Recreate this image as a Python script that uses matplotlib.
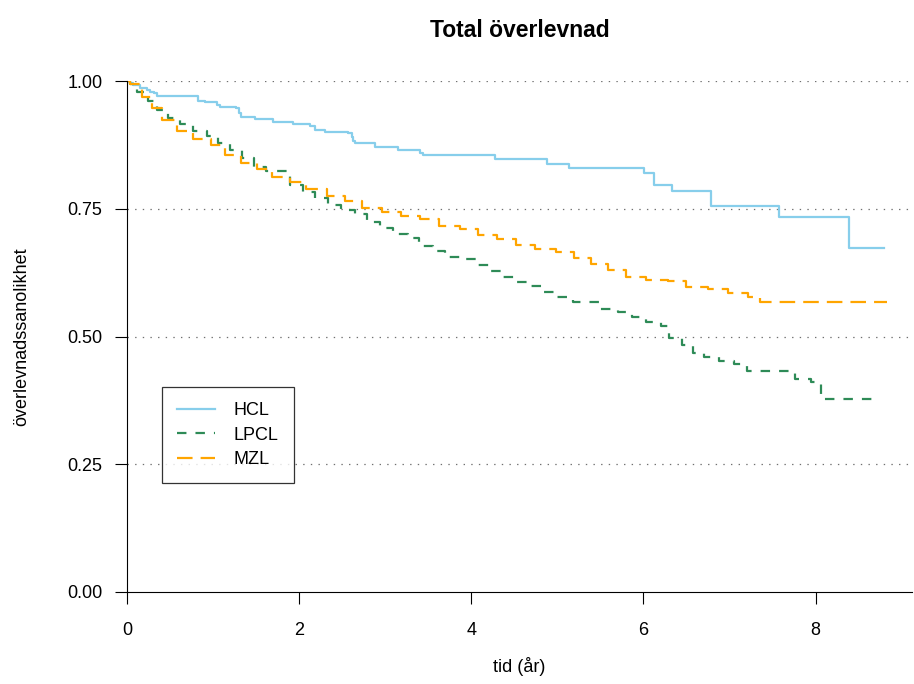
import matplotlib
matplotlib.use("Agg")
import matplotlib.pyplot as plt

plt.rcParams['font.family'] = ['Liberation Sans', 'DejaVu Sans']
plt.rcParams['lines.scale_dashes'] = False

# Kaplan-Meier steps (time in years, survival prob.)
hcl_t = [0, 0.04, 0.07, 0.15, 0.23, 0.27, 0.31, 0.35, 0.82, 0.91, 1.04, 1.08,
         1.27, 1.30, 1.32, 1.49, 1.70, 1.93, 2.13, 2.18, 2.30, 2.57, 2.61, 2.63,
         2.65, 2.88, 3.15, 3.40, 3.44, 4.27, 4.88, 5.13, 6.01, 6.12, 6.33, 6.78,
         7.58, 8.39, 8.79]
hcl_s = [1.0, 0.997, 0.993, 0.986, 0.982, 0.979, 0.976, 0.971, 0.961, 0.958,
         0.953, 0.950, 0.947, 0.937, 0.930, 0.925, 0.920, 0.916, 0.912, 0.905,
         0.901, 0.898, 0.891, 0.883, 0.878, 0.871, 0.865, 0.860, 0.855, 0.847,
         0.838, 0.830, 0.819, 0.796, 0.785, 0.755, 0.734, 0.673, 0.673]

lpcl_t = [0, 0.04, 0.12, 0.24, 0.35, 0.48, 0.62, 0.77, 0.93, 1.06, 1.20, 1.34,
          1.47, 1.62, 1.89, 2.05, 2.18, 2.34, 2.49, 2.65, 2.79, 2.94, 3.09,
          3.26, 3.39, 3.55, 3.70, 3.90, 4.05, 4.21, 4.36, 4.52, 4.68, 4.83,
          5.00, 5.18, 5.50, 5.70, 5.87, 6.03, 6.20, 6.30, 6.45, 6.58, 6.70,
          6.88, 7.05, 7.20, 7.76, 7.95, 8.06, 8.72]
lpcl_s = [1.0, 0.995, 0.979, 0.961, 0.943, 0.928, 0.916, 0.902, 0.892, 0.878,
          0.865, 0.849, 0.832, 0.823, 0.796, 0.782, 0.771, 0.757, 0.748, 0.739,
          0.724, 0.712, 0.700, 0.692, 0.678, 0.668, 0.656, 0.652, 0.639, 0.629,
          0.617, 0.607, 0.599, 0.587, 0.577, 0.567, 0.554, 0.548, 0.539, 0.528,
          0.520, 0.497, 0.483, 0.468, 0.460, 0.452, 0.446, 0.433, 0.417, 0.411,
          0.378, 0.378]

mzl_t = [0, 0.03, 0.17, 0.29, 0.41, 0.58, 0.77, 0.98, 1.14, 1.32, 1.51, 1.69,
         1.89, 2.08, 2.32, 2.53, 2.73, 2.96, 3.18, 3.40, 3.62, 3.87, 4.08, 4.30,
         4.52, 4.74, 4.98, 5.19, 5.39, 5.59, 5.80, 6.03, 6.28, 6.49, 6.75, 6.98,
         7.21, 7.35, 8.83]
mzl_s = [1.0, 0.994, 0.969, 0.947, 0.924, 0.902, 0.887, 0.875, 0.855, 0.840,
         0.827, 0.812, 0.802, 0.788, 0.774, 0.765, 0.752, 0.744, 0.736, 0.729,
         0.717, 0.711, 0.699, 0.690, 0.680, 0.671, 0.665, 0.654, 0.642, 0.630,
         0.617, 0.611, 0.609, 0.597, 0.592, 0.586, 0.577, 0.567, 0.567]

x_ticks = [0, 2, 4, 6, 8]
y_ticks = [0.00, 0.25, 0.50, 0.75, 1.00]
y_tick_labels = ["0.00", "0.25", "0.50", "0.75", "1.00"]

fig = plt.figure(figsize=(9.14, 6.84), dpi=100)
ax = fig.add_axes([127 / 914, 1 - 592 / 684, 785 / 914, 511 / 684])

for yv in y_ticks[1:]:
    ax.axhline(yv, color='#707070', lw=0.9, ls=(0, (1, 4.5)), zorder=1)

ax.step(hcl_t, hcl_s, where='post', color='#87CEEB', lw=1.6, label='HCL')
ax.step(lpcl_t, lpcl_s, where='post', color='#2E8B57', lw=1.6,
        ls=(0, (6.8, 6.5)), label='LPCL')
ax.step(mzl_t, mzl_s, where='post', color='#FFA500', lw=1.6,
        ls=(0, (11.2, 5.8)), label='MZL')

ax.set_xlim(0, 9.12)
ax.set_ylim(0, 1)
ax.set_xticks(x_ticks)
ax.set_yticks(y_ticks)
ax.set_yticklabels(y_tick_labels)
ax.spines['top'].set_visible(False)
ax.spines['right'].set_visible(False)
ax.tick_params(axis='x', length=8.6, width=0.8, pad=13, labelsize=13)
ax.tick_params(axis='y', length=8.6, width=0.8, pad=9, labelsize=13)

ax.set_title('Total överlevnad', fontsize=16.5, fontweight='bold', pad=32)
ax.set_xlabel('tid (år)', fontsize=13, labelpad=13)
ax.set_ylabel('överlevnadssanolikhet', fontsize=13, labelpad=27)

leg = ax.legend(loc='upper left', bbox_to_anchor=(0.0446, 0.401), fontsize=13,
                frameon=True, fancybox=False, edgecolor='black',
                handlelength=2.1, handletextpad=1.0, labelspacing=0.4,
                borderpad=0.85, borderaxespad=0)
leg.get_frame().set_linewidth(0.9)

fig.savefig('out.png', dpi=100)
